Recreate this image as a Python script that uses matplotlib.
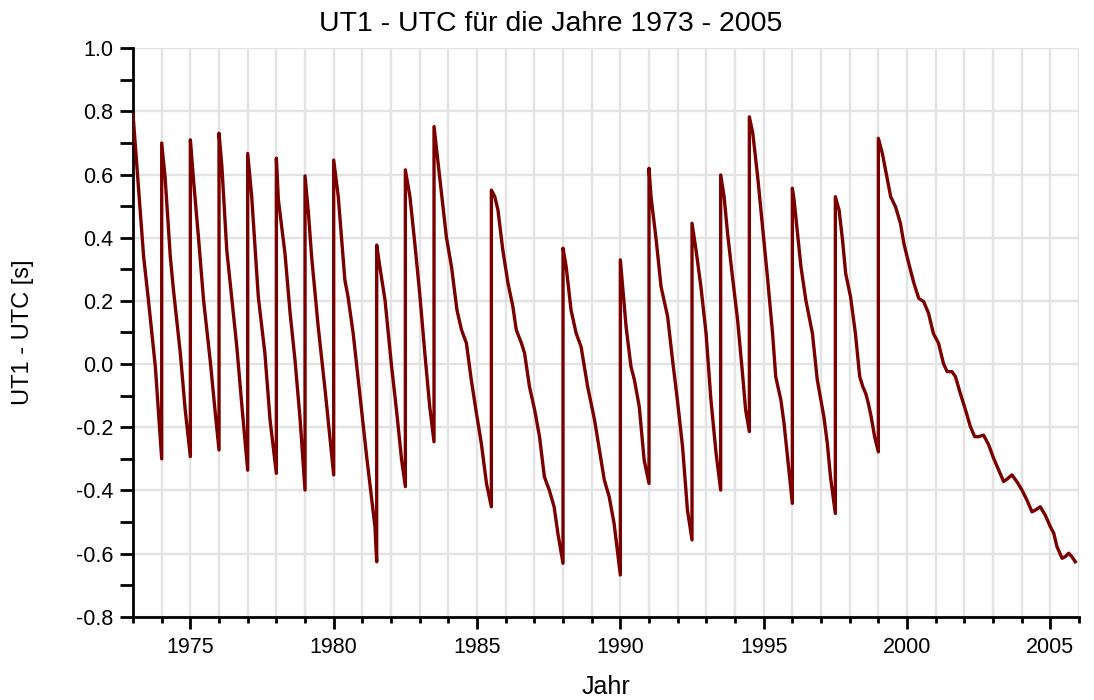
#!/usr/bin/env python3
"""
UT1 - UTC 1973 - 2005 (Schaltsekunden-Sägezahn)
"""

import matplotlib
matplotlib.use('Agg')
import matplotlib.pyplot as plt
from matplotlib.ticker import MultipleLocator, FormatStrFormatter

plt.rcParams['font.family'] = ['Liberation Sans', 'DejaVu Sans']
plt.rcParams['axes.unicode_minus'] = False

# Jahr (Dezimaljahr) und UT1-UTC in Sekunden
jahr = [
    1973.00, 1973.37, 1973.54, 1973.78, 1974.00,
    1974.00, 1974.12, 1974.30, 1974.41, 1974.65, 1974.82, 1975.00,
    1975.00, 1975.11, 1975.29, 1975.46, 1975.69, 1975.87, 1976.00,
    1976.00, 1976.10, 1976.27, 1976.45, 1976.62, 1976.80, 1977.00,
    1977.00, 1977.14, 1977.37, 1977.60, 1977.78, 1978.00,
    1978.00, 1978.07, 1978.30, 1978.48, 1978.65, 1978.83, 1979.00,
    1979.00, 1979.12, 1979.23, 1979.46, 1979.70, 1980.00,
    1980.00, 1980.16, 1980.39, 1980.50, 1980.68, 1980.91, 1981.15, 1981.44, 1981.50,
    1981.50, 1981.61, 1981.79, 1982.02, 1982.19, 1982.37, 1982.50,
    1982.50, 1982.66, 1982.83, 1983.00, 1983.18, 1983.35, 1983.50,
    1983.50, 1983.58, 1983.76, 1983.93, 1984.11, 1984.30, 1984.46, 1984.63,
    1984.80, 1984.98, 1985.15, 1985.33, 1985.50,
    1985.50, 1985.62, 1985.73, 1985.90, 1986.08, 1986.25, 1986.37, 1986.55,
    1986.66, 1986.83, 1987.01, 1987.18, 1987.35, 1987.52, 1987.69, 1987.82, 1988.00,
    1988.00, 1988.11, 1988.28, 1988.46, 1988.63, 1988.86, 1989.10, 1989.27,
    1989.44, 1989.61, 1989.78, 1990.00,
    1990.00, 1990.08, 1990.20, 1990.37, 1990.49, 1990.66, 1990.83, 1991.00,
    1991.00, 1991.07, 1991.25, 1991.42, 1991.65, 1991.82, 1991.99, 1992.17, 1992.34, 1992.50,
    1992.50, 1992.64, 1992.81, 1992.99, 1993.16, 1993.34, 1993.50,
    1993.50, 1993.62, 1993.74, 1993.91, 1994.09, 1994.26, 1994.37, 1994.50,
    1994.50, 1994.62, 1994.79, 1994.96, 1995.13, 1995.31, 1995.42, 1995.60,
    1995.71, 1995.83, 1996.00,
    1996.00, 1996.06, 1996.18, 1996.30, 1996.47, 1996.70, 1996.87, 1997.10,
    1997.22, 1997.33, 1997.50,
    1997.50, 1997.63, 1997.75, 1997.86, 1998.03, 1998.20, 1998.35, 1998.46,
    1998.56, 1998.65, 1998.75, 1998.87, 1999.00,
    1999.00, 1999.14, 1999.25, 1999.43, 1999.60, 1999.77, 1999.89, 2000.06,
    2000.24, 2000.41, 2000.58, 2000.75, 2000.92, 2001.10, 2001.27, 2001.40,
    2001.57, 2001.69, 2001.86, 2002.04, 2002.21, 2002.36, 2002.50, 2002.67,
    2002.85, 2003.02, 2003.20, 2003.37, 2003.52, 2003.66, 2003.83, 2004.01,
    2004.18, 2004.36, 2004.48, 2004.65, 2004.82, 2005.00, 2005.12, 2005.23,
    2005.41, 2005.52, 2005.64, 2005.75, 2005.87,
]
ut1_utc = [
    0.79, 0.34, 0.20, -0.01, -0.30,
    0.70, 0.59, 0.34, 0.235, 0.034, -0.145, -0.293,
    0.71, 0.583, 0.393, 0.203, 0.013, -0.156, -0.272,
    0.731, 0.625, 0.361, 0.203, 0.055, -0.135, -0.336,
    0.667, 0.530, 0.213, 0.034, -0.177, -0.346,
    0.652, 0.52, 0.351, 0.161, 0.013, -0.177, -0.399,
    0.596, 0.477, 0.340, 0.118, -0.082, -0.351,
    0.646, 0.53, 0.266, 0.213, 0.097, -0.093, -0.293, -0.515, -0.626,
    0.377, 0.308, 0.203, -0.008, -0.145, -0.304, -0.388,
    0.615, 0.53, 0.382, 0.224, 0.034, -0.135, -0.246,
    0.752, 0.688, 0.541, 0.403, 0.308, 0.171, 0.108, 0.066,
    -0.050, -0.156, -0.251, -0.378, -0.452,
    0.551, 0.53, 0.488, 0.361, 0.256, 0.182, 0.108, 0.066,
    0.034, -0.072, -0.145, -0.230, -0.357, -0.399, -0.452, -0.536, -0.631,
    0.367, 0.308, 0.171, 0.097, 0.055, -0.072, -0.177, -0.272,
    -0.367, -0.42, -0.504, -0.668,
    0.330, 0.245, 0.118, -0.008, -0.05, -0.135, -0.304, -0.378,
    0.62, 0.53, 0.393, 0.245, 0.15, 0.013, -0.114, -0.262, -0.462, -0.557,
    0.446, 0.361, 0.245, 0.097, -0.114, -0.283, -0.399,
    0.599, 0.53, 0.414, 0.277, 0.14, -0.029, -0.145, -0.214,
    0.783, 0.731, 0.593, 0.435, 0.277, 0.097, -0.040, -0.114,
    -0.188, -0.293, -0.441,
    0.557, 0.52, 0.414, 0.308, 0.203, 0.097, -0.050, -0.167,
    -0.251, -0.357, -0.473,
    0.530, 0.488, 0.393, 0.287, 0.213, 0.097, -0.04, -0.072,
    -0.093, -0.124, -0.167, -0.23, -0.278,
    0.715, 0.667, 0.615, 0.53, 0.498, 0.446, 0.382, 0.319,
    0.256, 0.208, 0.198, 0.161, 0.097, 0.066, 0.002, -0.024,
    -0.024, -0.04, -0.093, -0.145, -0.198, -0.23, -0.23, -0.225,
    -0.256, -0.298, -0.336, -0.372, -0.362, -0.351, -0.372, -0.399,
    -0.43, -0.468, -0.462, -0.452, -0.478, -0.515, -0.536, -0.578,
    -0.615, -0.61, -0.599, -0.61, -0.626,
]

fig, ax = plt.subplots(figsize=(10.94, 7.0), dpi=100)
fig.subplots_adjust(left=0.1216, right=0.9863, top=0.931, bottom=0.119)

ax.plot(jahr, ut1_utc, '-', color='#7a0000', linewidth=2.4, zorder=3)

ax.set_xlim(1973, 2006)
ax.set_ylim(-0.8, 1.0)

ax.xaxis.set_major_locator(MultipleLocator(5))
ax.xaxis.set_minor_locator(MultipleLocator(1))
ax.yaxis.set_major_locator(MultipleLocator(0.2))
ax.yaxis.set_minor_locator(MultipleLocator(0.1))
ax.yaxis.set_major_formatter(FormatStrFormatter('%.1f'))

ax.grid(True, which='both', axis='x', color='#e3e3e3', linewidth=1.7, zorder=0)
ax.grid(True, which='major', axis='y', color='#e3e3e3', linewidth=1.7, zorder=0)
ax.set_axisbelow(True)

for side in ['top', 'right']:
    ax.spines[side].set_visible(False)
for side in ['left', 'bottom']:
    ax.spines[side].set_linewidth(2.0)

# x: lange Haupt-, kurze Nebenstriche; y: alle gleich lang
ax.tick_params(axis='x', which='major', direction='out', length=8.5, width=2.0,
               labelsize=15.5, pad=6)
ax.tick_params(axis='x', which='minor', direction='out', length=4.5, width=2.0)
ax.tick_params(axis='y', which='both', direction='out', length=9.5, width=2.0)
ax.tick_params(axis='y', which='major', labelsize=15.5, pad=5)

# Titel ist auf die ganze Abbildung zentriert, nicht auf die Achsen
fig.text(0.503, 0.956, 'UT1 - UTC für die Jahre 1973 - 2005', fontsize=20.5,
         ha='center', va='baseline')
ax.set_xlabel('Jahr', fontsize=18, labelpad=12)
ax.set_ylabel('UT1 - UTC [s]', fontsize=17, labelpad=30)

plt.savefig('out.png', dpi=100)
print("Grafik gespeichert: out.png")
